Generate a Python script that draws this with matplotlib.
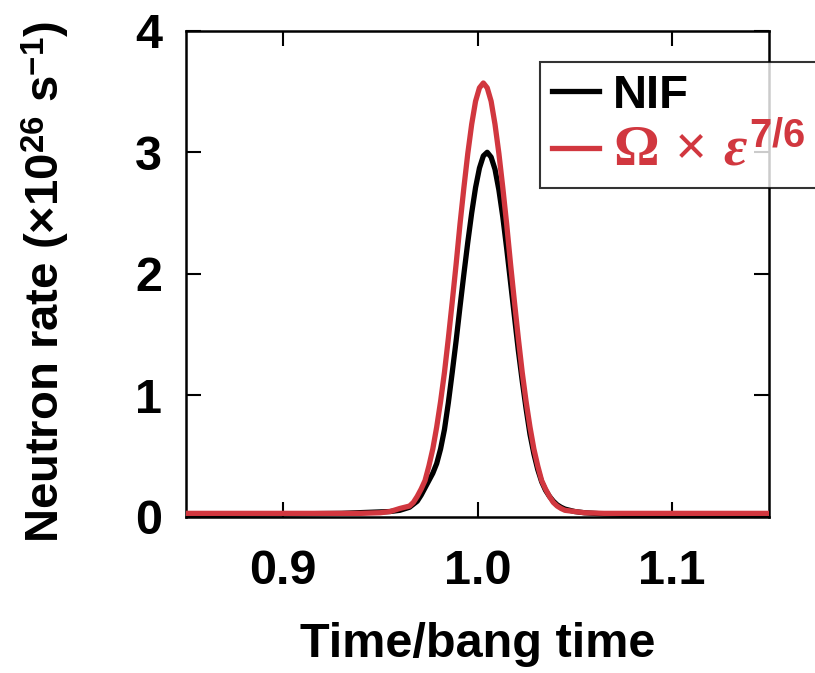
import matplotlib
matplotlib.use("Agg")
import matplotlib.pyplot as plt

plt.rcParams["font.family"] = ["Liberation Sans", "DejaVu Sans"]
plt.rcParams["font.weight"] = "bold"
plt.rcParams["mathtext.fontset"] = "custom"
plt.rcParams["mathtext.rm"] = "Liberation Serif:bold"
plt.rcParams["mathtext.it"] = "Liberation Serif:bold:italic"
plt.rcParams["mathtext.bf"] = "Liberation Serif:bold"
plt.rcParams["mathtext.sf"] = "Liberation Sans:bold"

# Normalised time (t / bang time) and neutron rate (x1e26 / s)
nif_t = [0.850, 0.900, 0.930, 0.955, 0.960, 0.965, 0.969, 0.971, 0.973,
         0.975, 0.977, 0.979, 0.981, 0.983, 0.985, 0.987, 0.989, 0.991,
         0.993, 0.995, 0.997, 0.999, 1.001, 1.003, 1.005, 1.007, 1.009,
         1.011, 1.013, 1.015, 1.017, 1.019, 1.021, 1.023, 1.025, 1.027,
         1.029, 1.031, 1.033, 1.035, 1.037, 1.039, 1.041, 1.043, 1.045,
         1.050, 1.055, 1.065, 1.080, 1.150]
nif_rate = [0.020, 0.025, 0.030, 0.045, 0.055, 0.080, 0.130, 0.180, 0.240,
            0.300, 0.360, 0.440, 0.560, 0.720, 0.940, 1.190, 1.450, 1.730,
            2.000, 2.260, 2.500, 2.710, 2.870, 2.970, 3.000, 2.960, 2.860,
            2.690, 2.470, 2.210, 1.930, 1.650, 1.370, 1.120, 0.890, 0.680,
            0.520, 0.390, 0.290, 0.220, 0.170, 0.130, 0.100, 0.080, 0.065,
            0.045, 0.035, 0.025, 0.020, 0.020]

omega_t = [0.850, 0.900, 0.940, 0.950, 0.955, 0.960, 0.965, 0.967, 0.969,
           0.971, 0.973, 0.975, 0.977, 0.979, 0.981, 0.983, 0.985, 0.987,
           0.989, 0.991, 0.993, 0.995, 0.997, 0.999, 1.001, 1.003, 1.005,
           1.007, 1.009, 1.011, 1.013, 1.015, 1.017, 1.019, 1.021, 1.023,
           1.025, 1.027, 1.029, 1.031, 1.033, 1.035, 1.037, 1.039, 1.041,
           1.043, 1.045, 1.050, 1.055, 1.065, 1.080, 1.150]
omega_rate = [0.030, 0.030, 0.030, 0.035, 0.045, 0.070, 0.090, 0.120, 0.170,
              0.230, 0.300, 0.420, 0.560, 0.740, 0.950, 1.190, 1.470, 1.770,
              2.080, 2.410, 2.710, 2.990, 3.230, 3.420, 3.530, 3.570, 3.530,
              3.420, 3.230, 2.990, 2.710, 2.410, 2.080, 1.770, 1.470, 1.190,
              0.950, 0.740, 0.560, 0.420, 0.300, 0.230, 0.170, 0.120, 0.090,
              0.070, 0.055, 0.045, 0.035, 0.030, 0.030, 0.030]

x_ticks = [0.9, 1.0, 1.1]
x_ticklabels = ["0.9", "1.0", "1.1"]
y_ticks = [0, 1, 2, 3, 4]

RED = "#d1373f"

fig = plt.figure(figsize=(8.15, 6.73), dpi=100)
ax = fig.add_axes([0.2282, 0.2318, 0.7154, 0.7226])

ax.plot(nif_t, nif_rate, color="black", lw=3.8, label="NIF", zorder=3,
        solid_joinstyle="round")
ax.plot(omega_t, omega_rate, color=RED, lw=3.8,
        label=r"$\Omega\,\times\,\mathit{\varepsilon}^{\mathsf{7/6}}$", zorder=4,
        solid_joinstyle="round")

ax.set_xlim(0.85, 1.15)
ax.set_ylim(0, 4)
ax.set_xticks(x_ticks)
ax.set_xticklabels(x_ticklabels)
ax.set_yticks(y_ticks)

ax.tick_params(direction="in", length=11, width=1.5, top=True, right=True,
               labelsize=35)
ax.tick_params(axis="x", pad=23)
ax.tick_params(axis="y", pad=17)
for sp in ax.spines.values():
    sp.set_linewidth(1.8)
for lab in ax.get_xticklabels() + ax.get_yticklabels():
    lab.set_fontweight("bold")

ax.set_xlabel("Time/bang time", fontsize=35, fontweight="bold", labelpad=20)
ax.set_ylabel(r"Neutron rate (×10$^{\mathsf{26}}$ s$^{\mathsf{−1}}$)",
              fontsize=34, fontweight="bold")
ax.yaxis.set_label_coords(-0.196, 0.483)

leg = ax.legend(loc="upper left", bbox_to_anchor=(0.6626, 0.9079),
                bbox_transform=fig.transFigure, borderaxespad=0,
                fontsize=34, frameon=True, fancybox=False,
                handlelength=1.0, handletextpad=0.3, labelspacing=0.1,
                borderpad=0.25)
leg.get_frame().set_edgecolor("black")
leg.get_frame().set_linewidth(1.5)
for txt, col in zip(leg.get_texts(), ["black", RED]):
    txt.set_color(col)
    txt.set_fontweight("bold")
leg.get_texts()[1].set_fontsize(41)

fig.savefig("out.png", dpi=100)
